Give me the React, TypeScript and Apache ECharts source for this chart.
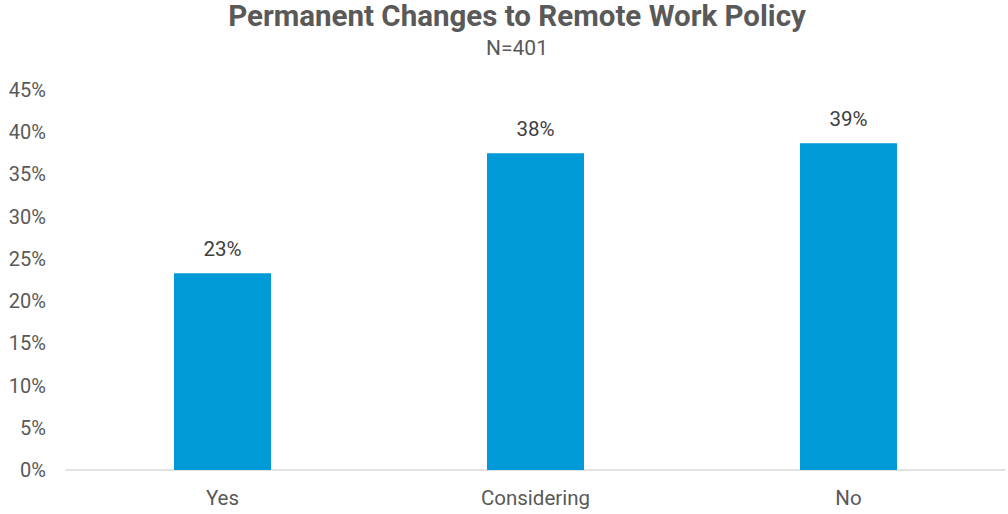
import React, { useEffect, useRef } from "react";
import * as echarts from "echarts";

const categories = ["Yes", "Considering", "No"];
const values = [0.233, 0.375, 0.387];
const labels = ["23%", "38%", "39%"];
const yTicks = [0, 0.05, 0.1, 0.15, 0.2, 0.25, 0.3, 0.35, 0.4, 0.45];

export default function App() {
  const ref = useRef<HTMLDivElement>(null);
  useEffect(() => {
    document.body.style.margin = "0";
    const chart = echarts.init(ref.current!, null, { renderer: "svg" });
    chart.setOption({
      animation: false,
      title: [
        {
          text: "Permanent Changes to Remote Work Policy",
          left: 512,
          top: -4,
          textAlign: "center",
          textStyle: { fontFamily: "Roboto", fontSize: 29.5, fontWeight: "bold", color: "#595959" },
        },
        {
          text: "N=401",
          left: 512,
          top: 32,
          textAlign: "center",
          textStyle: { fontFamily: "Roboto", fontSize: 21, fontWeight: "normal", color: "#595959" },
        },
      ],
      grid: { left: 66, right: 3, top: 90, bottom: 44, containLabel: false },
      xAxis: {
        type: "category",
        data: categories,
        axisLine: { show: true, lineStyle: { color: "#d9d9d9", width: 1.5 } },
        axisTick: { show: false },
        axisLabel: { fontFamily: "Roboto", fontSize: 20.5, color: "#595959", margin: 17 },
      },
      yAxis: {
        type: "value",
        min: 0,
        max: yTicks[yTicks.length - 1],
        interval: 0.05,
        splitLine: { show: false },
        axisLine: { show: false },
        axisTick: { show: false },
        axisLabel: {
          fontFamily: "Roboto",
          fontSize: 20,
          color: "#595959",
          margin: 20,
          formatter: (v: number) => Math.round(v * 100) + "%",
        },
      },
      series: [
        {
          type: "bar",
          data: values,
          barWidth: "31%",
          itemStyle: { color: "#009ad9" },
          label: {
            show: true,
            position: "top",
            distance: 14,
            fontFamily: "Roboto",
            fontSize: 20.5,
            color: "#404040",
            formatter: (p: any) => labels[p.dataIndex],
          },
        },
      ],
    });
    return () => chart.dispose();
  }, []);
  return <div ref={ref} style={{ width: 1008, height: 514 }} />;
}
